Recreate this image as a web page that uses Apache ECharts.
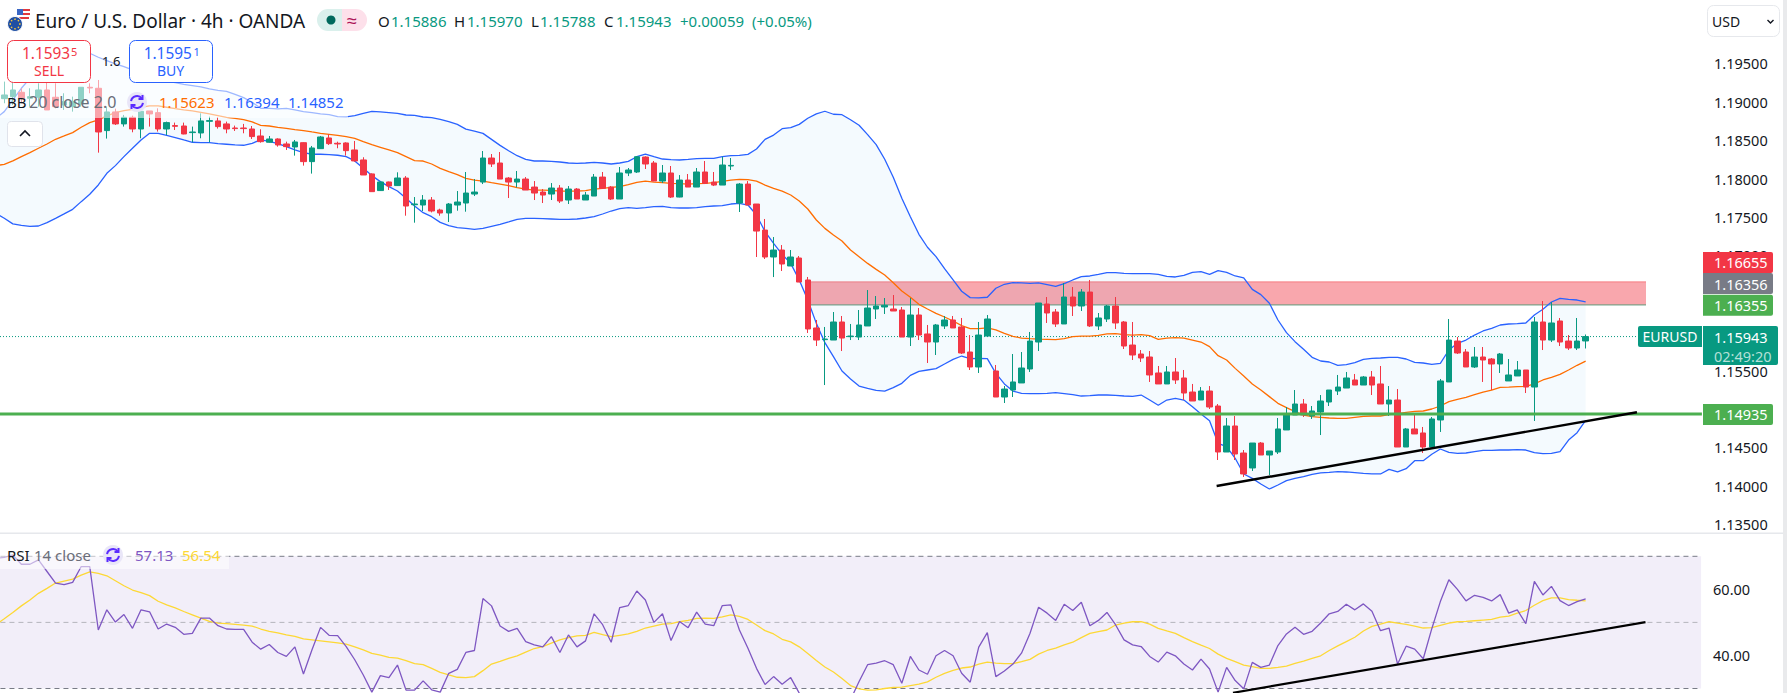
<!DOCTYPE html>
<html>
<head>
<meta charset="utf-8">
<title>EURUSD 4h</title>
<style>html,body{margin:0;padding:0;background:#fff}#chart{width:1787px;height:693px}</style>
<script src="https://cdn.jsdelivr.net/npm/echarts@6/dist/echarts.min.js"></script>
</head>
<body>
<div id="chart"></div>
<script>
// 4h EURUSD candles, oldest first
const opens = [1.19041,1.19067,1.19124,1.19046,1.19059,1.19154,1.19059,1.18959,1.18937,1.18972,
1.19189,1.19176,1.18625,1.18868,1.18712,1.18798,1.18646,1.18881,1.18859,1.18646,
1.18690,1.18685,1.18599,1.18594,1.18746,1.18751,1.18712,1.18659,1.18659,1.18646,
1.18555,1.18473,1.18516,1.18451,1.18412,1.18468,1.18221,1.18390,1.18529,1.18460,
1.18464,1.18373,1.18243,1.18061,1.17844,1.17956,1.17909,
1.18007,1.17660,1.17656,1.17721,1.17591,1.17552,1.17656,1.17682,1.17799,1.17955,
1.18268,1.18203,1.18007,1.17955,1.17994,1.17890,1.17825,1.17799,1.17877,1.17721,
1.17864,1.17721,1.17773,1.18020,1.17890,1.17734,1.18073,1.18086,1.18281,1.18203,
1.17968,1.18073,1.17760,1.17981,1.17890,1.18086,1.17955,1.17916,1.18164,1.17682,
1.17929,1.17669,1.17330,1.16979,1.17070,1.16862,1.16966,
1.16680,1.16055,1.15903,1.15898,1.16133,1.15942,
1.15937,1.16081,1.16302,1.16328,1.16302,1.16289,1.15937,1.16224,1.15977,1.15872,
1.16081,1.16159,1.16068,1.15742,1.15547,1.15950,1.15495,1.15156,1.15247,1.15339,
1.15521,1.15872,1.16367,1.16263,1.16107,1.16458,1.16341,1.16523,1.16081,1.16172,
1.16341,1.16133,1.15833,1.15716,1.15677,1.15469,1.15326,1.15482,1.15404,1.15221,
1.15117,1.15234,1.15039,1.14440,1.14779,1.14427,1.14232,1.14557,1.14401,1.14440,
1.14727,1.14922,1.15065,1.14909,1.14961,1.15091,1.15234,1.15273,1.15378,1.15312,
1.15417,1.15326,1.15065,1.15117,1.14505,1.14740,1.14688,1.14505,1.14857,1.15352,
1.15885,1.15742,1.15547,1.15677,1.15651,1.15586,1.15365,1.15430,1.15508,1.15286,
1.16133,1.15898,1.16146,1.15885,1.15794,1.15886];
const closes = [1.19089,1.19154,1.19046,1.19067,1.19154,1.18894,1.18937,1.19002,1.19002,1.19189,
1.19180,1.18607,1.18868,1.18712,1.18798,1.18646,1.18876,1.18842,1.18646,1.18729,
1.18681,1.18581,1.18607,1.18751,1.18755,1.18677,1.18646,1.18651,1.18651,1.18547,
1.18481,1.18516,1.18438,1.18416,1.18477,1.18221,1.18399,1.18542,1.18455,1.18451,
1.18364,1.18230,1.18047,1.17830,1.17956,1.17904,1.18008,
1.17643,1.17669,1.17721,1.17578,1.17552,1.17669,1.17695,1.17812,1.17825,1.18268,
1.18190,1.17994,1.17955,1.17994,1.17851,1.17812,1.17786,1.17877,1.17708,1.17864,
1.17734,1.17786,1.18020,1.17873,1.17734,1.18073,1.18112,1.18285,1.18190,1.17968,
1.18073,1.17760,1.17981,1.17890,1.18086,1.17938,1.17916,1.18177,1.18172,1.17929,
1.17656,1.17317,1.16979,1.17070,1.16888,1.16979,1.16653,
1.16042,1.15898,1.15911,1.16133,1.15924,1.15950,
1.16094,1.16315,1.16341,1.16350,1.16276,1.15937,1.16224,1.15963,1.15872,1.16094,
1.16159,1.16055,1.15729,1.15547,1.15963,1.16172,1.15156,1.15260,1.15352,1.15534,
1.15885,1.16380,1.16250,1.16107,1.16458,1.16341,1.16523,1.16081,1.16185,1.16341,
1.16120,1.15820,1.15703,1.15664,1.15443,1.15326,1.15482,1.15378,1.15208,1.15104,
1.15234,1.15026,1.14440,1.14779,1.14414,1.14154,1.14557,1.14401,1.14453,1.14740,
1.14935,1.15065,1.14922,1.14974,1.15104,1.15247,1.15286,1.15404,1.15312,1.15417,
1.15312,1.15065,1.15117,1.14505,1.14740,1.14675,1.14505,1.14870,1.15365,1.15898,
1.15729,1.15547,1.15677,1.15638,1.15586,1.15716,1.15443,1.15508,1.15286,1.16133,
1.15898,1.16120,1.15872,1.15794,1.15885,1.15943];
const lows = [1.18981,1.18959,1.18981,1.18937,1.18937,1.18894,1.18915,1.18894,1.18872,1.18937,
1.19111,1.18338,1.18521,1.18698,1.18677,1.18603,1.18525,1.18677,1.18612,1.18568,
1.18633,1.18577,1.18473,1.18525,1.18473,1.18651,1.18590,1.18620,1.18590,1.18516,
1.18468,1.18468,1.18416,1.18373,1.18299,1.18169,1.18065,1.18386,1.18438,1.18395,
1.18299,1.18221,1.18047,1.17830,1.17839,1.17852,1.17904,
1.17517,1.17426,1.17578,1.17560,1.17517,1.17435,1.17582,1.17569,1.17773,1.17929,
1.18151,1.17994,1.17747,1.17886,1.17851,1.17721,1.17682,1.17721,1.17682,1.17669,
1.17734,1.17721,1.17773,1.17864,1.17721,1.17734,1.18033,1.18073,1.18125,1.17968,
1.17942,1.17747,1.17756,1.17890,1.17890,1.17929,1.17903,1.17916,1.18112,1.17565,
1.17656,1.16979,1.16953,1.16718,1.16797,1.16862,1.16653,
1.15990,1.15820,1.15312,1.15898,1.15755,1.15898,
1.15898,1.16081,1.16172,1.16237,1.16276,1.15937,1.15820,1.15898,1.15599,1.15703,
1.16042,1.16055,1.15716,1.15508,1.15469,1.15937,1.15156,1.15078,1.15156,1.15339,
1.15482,1.15755,1.16120,1.16068,1.16107,1.16211,1.16276,1.16068,1.16029,1.16133,
1.16042,1.15781,1.15638,1.15612,1.15352,1.15326,1.15326,1.15326,1.15117,1.15104,
1.15117,1.15000,1.14336,1.14440,1.14336,1.14115,1.14193,1.14401,1.14141,1.14414,
1.14727,1.14922,1.14896,1.14870,1.14661,1.15039,1.15182,1.15273,1.15312,1.15312,
1.15182,1.15065,1.14909,1.14505,1.14505,1.14675,1.14427,1.14505,1.14701,1.15352,
1.15716,1.15547,1.15534,1.15352,1.15247,1.15469,1.15365,1.15430,1.15208,1.14844,
1.15768,1.15872,1.15820,1.15768,1.15768,1.15788];
const highs = [1.19263,1.19263,1.19176,1.19176,1.19241,1.19263,1.19241,1.19111,1.19067,1.19189,
1.19241,1.19284,1.18937,1.18911,1.18829,1.18820,1.18915,1.18881,1.18915,1.18742,
1.18729,1.18729,1.18677,1.18850,1.18807,1.18798,1.18742,1.18690,1.18712,1.18685,
1.18642,1.18555,1.18525,1.18481,1.18503,1.18473,1.18425,1.18555,1.18577,1.18481,
1.18473,1.18490,1.18278,1.18069,1.17961,1.17961,1.18082,
1.18033,1.17760,1.17786,1.17760,1.17608,1.17682,1.17838,1.18086,1.17994,1.18359,
1.18320,1.18346,1.18020,1.18099,1.18020,1.17968,1.17864,1.17942,1.17916,1.17903,
1.17877,1.17825,1.18060,1.18086,1.17903,1.18151,1.18138,1.18294,1.18290,1.18229,
1.18177,1.18164,1.18046,1.18060,1.18138,1.18229,1.18086,1.18285,1.18268,1.17942,
1.17968,1.17669,1.17474,1.17239,1.17135,1.17070,1.16992,
1.16719,1.16159,1.16068,1.16263,1.16211,1.16107,
1.16289,1.16549,1.16471,1.16445,1.16484,1.16328,1.16445,1.16315,1.16094,1.16107,
1.16211,1.16211,1.16185,1.15963,1.16133,1.16224,1.15573,1.15299,1.15716,1.15742,
1.16003,1.16380,1.16458,1.16302,1.16641,1.16588,1.16562,1.16680,1.16250,1.16354,
1.16458,1.16146,1.16133,1.15768,1.15755,1.15560,1.15560,1.15664,1.15508,1.15326,
1.15286,1.15299,1.15065,1.14883,1.14909,1.14466,1.14557,1.14570,1.14453,1.14883,
1.15026,1.15247,1.15130,1.15039,1.15182,1.15247,1.15443,1.15482,1.15456,1.15430,
1.15495,1.15560,1.15299,1.15260,1.14753,1.14922,1.14766,1.14896,1.15391,1.16172,
1.15937,1.15781,1.15807,1.15807,1.15664,1.15729,1.15651,1.15625,1.15508,1.16198,
1.16406,1.16393,1.16185,1.15963,1.16185,1.15970];

// Bollinger Bands (20, close, 2); the first entry belongs to the bar just off the left edge
const bbUpper = [1.18785,1.18872,1.19024,1.19176,1.19306,1.19436,1.19545,1.19597,1.19632,1.19645,1.19645,
1.19632,1.19580,1.19536,1.19493,1.19458,1.19415,1.19363,1.19306,1.19280,1.19267,
1.19250,1.19228,1.19211,1.19193,1.19167,1.19150,1.19137,1.19098,1.19054,1.18994,
1.18915,1.18915,1.18907,1.18915,1.18894,1.18872,1.18859,1.18842,1.18833,1.18807,
1.18803,1.18820,1.18850,1.18876,1.18868,1.18859,1.18850,
1.18828,1.18823,1.18802,1.18793,1.18771,1.18741,1.18706,1.18645,1.18619,1.18589,
1.18511,1.18433,1.18363,1.18298,1.18250,1.18229,1.18229,1.18224,1.18216,1.18203,
1.18198,1.18203,1.18211,1.18203,1.18190,1.18203,1.18224,1.18285,1.18320,1.18285,
1.18255,1.18246,1.18242,1.18250,1.18259,1.18263,1.18263,1.18285,1.18298,1.18303,
1.18316,1.18385,1.18511,1.18567,1.18650,1.18663,1.18706,
1.18786,1.18842,1.18877,1.18838,1.18832,1.18767,1.18694,1.18572,1.18442,1.18252,
1.18017,1.17744,1.17504,1.17275,1.17106,1.16984,1.16827,1.16680,1.16533,1.16450,
1.16446,1.16455,1.16572,1.16624,1.16645,1.16641,1.16636,1.16641,1.16619,1.16597,
1.16632,1.16680,1.16723,1.16732,1.16753,1.16775,1.16775,1.16766,1.16762,1.16762,
1.16762,1.16753,1.16727,1.16719,1.16740,1.16779,1.16788,1.16753,1.16801,1.16779,
1.16732,1.16706,1.16558,1.16489,1.16376,1.16159,1.15994,1.15877,1.15777,1.15673,
1.15625,1.15612,1.15569,1.15577,1.15603,1.15647,1.15660,1.15664,1.15673,1.15673,
1.15651,1.15608,1.15599,1.15582,1.15595,1.15768,1.15855,1.15898,1.15963,1.16016,
1.16050,1.16094,1.16107,1.16111,1.16120,1.16224,1.16298,1.16393,1.16441,1.16428,
1.16419,1.16394];
const bbBasis = [1.18169,1.18186,1.18230,1.18286,1.18338,1.18395,1.18451,1.18512,1.18555,1.18599,1.18668,
1.18729,1.18764,1.18816,1.18859,1.18885,1.18902,1.18929,1.18946,1.18946,1.18929,
1.18911,1.18894,1.18881,1.18863,1.18842,1.18820,1.18798,1.18785,1.18768,1.18738,
1.18694,1.18685,1.18668,1.18655,1.18638,1.18625,1.18607,1.18590,1.18577,1.18564,
1.18547,1.18525,1.18481,1.18442,1.18408,1.18373,1.18338,1.18286,1.18234,
1.18229,1.18190,1.18133,1.18090,1.18051,1.18003,1.17981,1.17968,1.17947,1.17929,
1.17908,1.17882,1.17864,1.17851,1.17851,1.17847,1.17838,1.17838,1.17838,1.17843,
1.17864,1.17873,1.17886,1.17895,1.17921,1.17951,1.17968,1.17955,1.17947,1.17938,
1.17934,1.17929,1.17934,1.17938,1.17947,1.17964,1.17981,1.17990,1.17986,1.17968,
1.17916,1.17873,1.17838,1.17786,1.17708,1.17604,1.17461,
1.17352,1.17265,1.17187,1.17070,1.16983,1.16896,1.16818,1.16744,
1.16645,1.16536,1.16454,1.16363,1.16302,1.16246,1.16198,1.16146,1.16085,1.16046,
1.16046,1.16055,1.16029,1.15985,1.15946,1.15924,1.15916,1.15911,1.15907,1.15903,
1.15916,1.15942,1.15950,1.15950,1.15959,1.15977,1.15981,1.15968,1.15963,1.15968,
1.15955,1.15907,1.15924,1.15929,1.15924,1.15898,1.15872,1.15812,1.15694,1.15638,
1.15529,1.15430,1.15326,1.15247,1.15161,1.15074,1.15017,1.14965,1.14922,1.14900,
1.14892,1.14883,1.14878,1.14878,1.14892,1.14905,1.14909,1.14909,1.14926,1.14940,
1.14957,1.14970,1.14974,1.15000,1.15039,1.15096,1.15126,1.15152,1.15187,1.15221,
1.15247,1.15282,1.15286,1.15291,1.15295,1.15326,1.15378,1.15412,1.15451,1.15508,
1.15569,1.15623];
const bbLower = [1.17548,1.17483,1.17410,1.17392,1.17379,1.17383,1.17427,1.17483,1.17540,1.17600,1.17700,
1.17796,1.17917,1.18069,1.18169,1.18286,1.18395,1.18503,1.18590,1.18590,1.18564,
1.18534,1.18503,1.18473,1.18468,1.18468,1.18455,1.18447,1.18438,1.18434,1.18460,
1.18503,1.18486,1.18455,1.18416,1.18373,1.18338,1.18317,1.18317,1.18312,1.18304,
1.18286,1.18230,1.18134,1.18039,1.17961,1.17896,1.17839,1.17744,1.17644,
1.17556,1.17504,1.17430,1.17387,1.17361,1.17352,1.17339,1.17352,1.17378,1.17404,
1.17435,1.17469,1.17482,1.17482,1.17478,1.17474,1.17469,1.17469,1.17474,1.17487,
1.17504,1.17539,1.17578,1.17608,1.17621,1.17612,1.17621,1.17634,1.17639,1.17621,
1.17617,1.17617,1.17621,1.17634,1.17643,1.17647,1.17669,1.17678,1.17656,1.17526,
1.17309,1.17157,1.17014,1.16896,1.16679,
1.16419,1.16115,1.15864,1.15681,1.15495,1.15391,1.15299,1.15269,1.15243,1.15234,
1.15278,1.15334,1.15438,1.15490,1.15508,1.15525,1.15586,1.15647,1.15690,1.15655,
1.15660,1.15655,1.15464,1.15326,1.15234,1.15204,1.15200,1.15200,1.15204,1.15213,
1.15200,1.15187,1.15169,1.15174,1.15182,1.15182,1.15178,1.15169,1.15165,1.15182,
1.15117,1.15048,1.15117,1.15139,1.15117,1.15030,1.14935,1.14848,1.14553,1.14510,
1.14358,1.14154,1.14097,1.14024,1.13958,1.14010,1.14067,1.14097,1.14119,1.14149,
1.14167,1.14175,1.14184,1.14180,1.14171,1.14162,1.14154,1.14154,1.14214,1.14180,
1.14223,1.14327,1.14327,1.14410,1.14479,1.14436,1.14423,1.14427,1.14445,1.14462,
1.14462,1.14466,1.14466,1.14471,1.14466,1.14431,1.14418,1.14423,1.14445,1.14596,
1.14692,1.14852];

// RSI (14, close) and its moving average; same off-screen first entry
const rsiLine = [69.4,69.7,70.4,67.6,67.6,68.9,65.4,61.9,61.4,62.1,66.9,66.9,47.7,53.8,50.1,52.4,48.2,53.8,53.2,48.0,49.5,
48.5,46.4,46.7,51.3,51.3,49.0,48.0,47.9,47.9,44.0,41.9,43.3,40.9,39.7,42.6,34.4,41.7,48.5,46.1,46.0,
42.7,38.7,34.1,28.9,33.9,33.3,37.1,29.5,29.5,32.3,29.6,28.9,34.6,35.8,40.9,41.5,57.2,55.0,48.9,47.3,
48.2,44.2,43.2,42.6,45.7,40.9,46.2,42.6,44.4,52.6,49.3,44.0,54.5,55.1,59.5,56.8,50.0,52.6,44.5,50.3,
48.4,53.1,49.5,49.0,55.1,55.3,47.7,42.2,36.1,31.2,33.6,31.3,33.3,28.6,21.5,23.0,23.5,25.0,26.1,26.6,
32.1,37.2,37.7,38.4,37.2,31.6,39.7,35.6,34.3,39.9,41.5,39.9,34.6,31.9,42.5,46.9,33.6,35.3,37.4,40.7,
46.7,54.6,52.8,50.6,55.5,53.6,56.1,49.0,50.6,53.0,49.3,44.7,43.2,42.7,39.7,38.0,41.0,39.9,37.4,35.6,
38.9,35.9,28.9,36.4,32.4,29.9,37.9,36.4,37.1,43.0,46.5,48.5,46.4,47.3,49.8,52.6,53.3,55.5,53.8,55.6,
53.4,47.5,48.3,37.4,42.8,41.9,39.0,48.1,56.3,62.9,60.0,56.5,58.2,57.6,56.5,58.4,52.8,53.8,49.6,62.4,
58.3,60.9,56.6,55.1,56.3,57.13];
const rsiAverage = [49.3,51.1,53.0,55.0,56.8,58.8,60.3,61.9,62.5,63.1,64.3,65.3,64.8,64.1,62.6,61.1,59.8,59.0,58.1,56.4,55.3,
54.4,53.3,52.3,51.3,50.3,49.8,49.6,49.4,49.2,48.9,48.0,47.3,46.8,46.2,45.8,45.0,44.7,44.4,44.1,43.8,
43.4,42.6,41.7,40.6,40.1,39.4,39.2,38.4,37.5,37.2,36.1,34.9,34.1,33.4,33.3,33.6,35.4,37.4,38.2,39.1,
39.9,41.0,42.1,42.7,43.7,44.7,45.4,45.9,46.1,47.0,46.3,45.7,46.1,46.5,47.3,48.3,48.9,49.5,49.6,50.2,
50.6,51.2,51.3,51.2,51.7,52.3,51.8,50.9,49.2,47.5,46.5,44.9,44.1,42.6,40.6,38.5,36.5,35.0,33.0,30.9,
29.9,29.5,29.6,30.0,30.3,30.4,30.9,31.3,32.0,33.4,34.6,35.5,36.2,36.5,37.4,38.0,37.7,37.5,37.5,38.1,
38.8,40.4,41.5,42.2,43.2,44.0,45.4,46.7,47.2,47.7,49.2,49.8,50.2,50.2,49.5,48.2,47.4,46.7,45.4,44.2,
43.1,42.1,40.4,39.1,38.1,37.1,36.6,36.1,36.1,36.4,36.8,37.6,38.3,39.1,39.9,41.5,42.9,44.2,45.5,47.4,
48.8,49.5,50.2,49.8,49.4,48.9,48.3,48.4,49.1,49.8,50.2,50.3,50.5,50.7,50.9,51.6,51.9,52.8,53.6,55.2,
56.6,57.4,57.4,56.9,56.7,56.54];

// Drawn levels and trend lines, x given in bars
const supplyZoneTop = 1.16655;
const supplyZoneBottom = 1.16355;
const supplyZoneBars = [95, 193.06];
const supportLevel = 1.14935;
const lastPrice = 1.15943;
const priceTrendBars = [142.83, 192.0];
const priceTrendValues = [1.13997, 1.14957];
const rsiTrendBars = [144.74, 193.0];
const rsiTrendValues = [28.7, 50.06];
const rsiLevels = [70, 50, 30];

// Price-scale tags: value, colour, nudge so overlapping tags stack
const tagValues = [1.16655, 1.16356, 1.16355, 1.14935];
const tagColors = ['#f23645', '#787b86', '#4caf50', '#4caf50'];
const tagNudges = [-19.5, -21.3, 0.2, 0.5];

// Scale labels that the tags would cover entirely are left out
const priceTicksHidden = [1.165, 1.16];
const priceTicksShown = [1.135, 1.195];
const rsiTicksShown = [40, 60];

const UP = '#089981', DOWN = '#f23645';
const FONT = '"Noto Sans", sans-serif';
const BAND = 8.548, BARS = 200;
const categories = Array.from({length: BARS}, (_, i) => i);
const candles = [['-', '-', '-', '-']].concat(opens.map((o, i) => [o, closes[i], lows[i], highs[i]]));

const chart = echarts.init(document.getElementById('chart'), null, {renderer: 'svg'});

function lineSeries(name, data, color, width, xi, yi, z, extra) {
  return Object.assign({
    name, type: 'line', data, xAxisIndex: xi, yAxisIndex: yi, z,
    showSymbol: false, symbol: 'none', silent: true, animation: false,
    lineStyle: {color, width}
  }, extra || {});
}

function rectItem(xi, yi, fill, z, x0, x1, y0, y1) {
  return {
    type: 'custom', xAxisIndex: xi, yAxisIndex: yi, z, silent: true, animation: false,
    data: [[x0, y0]],
    renderItem: (p, api) => {
      const a = api.coord([x0, y0]), b = api.coord([x1, y1]);
      return {type: 'rect', shape: {x: a[0], y: a[1], width: b[0] - a[0], height: b[1] - a[1]}, style: {fill}};
    }
  };
}

const series = [
  rectItem(1, 0, 'rgba(242,54,69,0.44)', 1, supplyZoneBars[0], supplyZoneBars[1], supplyZoneTop, supplyZoneBottom),
  lineSeries('Zone top', supplyZoneBars.map(x => [x, supplyZoneTop]), '#f77c80', 1, 1, 0, 1),
  lineSeries('Zone bottom', supplyZoneBars.map(x => [x, supplyZoneBottom]), '#5f9a7c', 1, 1, 0, 1),
  {
    type: 'custom', xAxisIndex: 0, yAxisIndex: 0, z: 2, silent: true, animation: false,
    data: [[0, bbUpper[0]]],
    renderItem: (p, api) => {
      const pts = bbUpper.map((v, i) => api.coord([i, v]));
      for (let i = bbLower.length - 1; i >= 0; i--) pts.push(api.coord([i, bbLower[i]]));
      return {type: 'polygon', shape: {points: pts}, style: {fill: 'rgba(33,150,243,0.05)'}};
    }
  },
  lineSeries('Last price', [[0.5, lastPrice], [192.1, lastPrice]], UP, 1, 1, 0, 3, {clip: false, lineStyle: {color: UP, width: 1, type: [1, 2]}}),
  lineSeries('BB upper', bbUpper, '#2962ff', 1.3, 0, 0, 4),
  lineSeries('BB basis', bbBasis, '#ff6d00', 1.3, 0, 0, 4),
  lineSeries('BB lower', bbLower, '#2962ff', 1.3, 0, 0, 4),
  {
    type: 'candlestick', xAxisIndex: 0, yAxisIndex: 0, z: 5, silent: true, animation: false,
    data: candles, barWidth: 6,
    itemStyle: {color: UP, color0: DOWN, borderColor: UP, borderColor0: DOWN, borderWidth: 1}
  },
  lineSeries('Support', [[0.5, supportLevel], [199.6, supportLevel]], '#4caf50', 3.2, 1, 0, 6, {clip: false}),
  lineSeries('Price trend', priceTrendBars.map((x, i) => [x, priceTrendValues[i]]), '#000', 2.4, 1, 0, 6),
  // Price-scale tags
  {
    type: 'custom', xAxisIndex: 1, yAxisIndex: 0, z: 10, silent: true, animation: false, clip: false,
    data: tagValues.map((v, i) => [i, v]),
    renderItem: (p, api) => {
      const i = p.dataIndex, y = api.coord([0, tagValues[i]])[1] + tagNudges[i];
      return {type: 'group', children: [
        {type: 'rect', shape: {x: 1703, y: y - 10.5, width: 70, height: 21, r: [0, 2, 2, 0]}, style: {fill: tagColors[i]}},
        {type: 'text', style: {x: 1714, y, text: tagValues[i].toFixed(5), fill: '#fff', font: '14.5px ' + FONT, align: 'left', verticalAlign: 'middle'}}
      ]};
    }
  },
  {
    type: 'custom', xAxisIndex: 1, yAxisIndex: 0, z: 11, silent: true, animation: false, clip: false,
    data: [[0, lastPrice]],
    renderItem: (p, api) => {
      const y = api.coord([0, lastPrice])[1];
      return {type: 'group', children: [
        {type: 'rect', shape: {x: 1638, y: y - 10.5, width: 64, height: 21, r: [2, 0, 0, 2]}, style: {fill: UP}},
        {type: 'text', style: {x: 1670, y, text: 'EURUSD', fill: '#fff', font: '14px ' + FONT, align: 'center', verticalAlign: 'middle'}},
        {type: 'rect', shape: {x: 1703, y: y - 10.5, width: 75, height: 39, r: [0, 2, 2, 0]}, style: {fill: UP}},
        {type: 'text', style: {x: 1714, y, text: lastPrice.toFixed(5), fill: '#fff', font: '14.5px ' + FONT, align: 'left', verticalAlign: 'middle'}},
        {type: 'text', style: {x: 1714, y: y + 19, text: '02:49:20', fill: '#b5e0d8', font: '14.5px ' + FONT, align: 'left', verticalAlign: 'middle'}}
      ]};
    }
  },
  // RSI pane
  rectItem(3, 1, 'rgba(126,87,194,0.1)', 1, -0.5, 199.5, rsiLevels[0], rsiLevels[2]),
  lineSeries('RSI 70', [[-0.5, rsiLevels[0]], [199.5, rsiLevels[0]]], '#787b86', 1, 3, 1, 2, {lineStyle: {color: '#787b86', width: 1, type: [5, 4]}}),
  lineSeries('RSI 50', [[-0.5, rsiLevels[1]], [199.5, rsiLevels[1]]], '#b4b4bc', 1, 3, 1, 2, {lineStyle: {color: '#b4b4bc', width: 1, type: [5, 4]}}),
  lineSeries('RSI 30', [[-0.5, rsiLevels[2]], [199.5, rsiLevels[2]]], '#787b86', 1, 3, 1, 2, {lineStyle: {color: '#787b86', width: 1, type: [5, 4]}}),
  lineSeries('RSI MA', rsiAverage, '#fdd835', 1.3, 2, 1, 3),
  lineSeries('RSI', rsiLine, '#7e57c2', 1.3, 2, 1, 4),
  lineSeries('RSI trend', rsiTrendBars.map((x, i) => [x, rsiTrendValues[i]]), '#000', 2.2, 3, 1, 5)
];

// Header, legends and buttons sit on top of the panes
function label(x, y, text, fill, size) {
  return {type: 'text', z: 100, silent: true, style: {
    x, y, text, fill, font: size + 'px ' + FONT, textAlign: 'left', textVerticalAlign: 'middle'
  }};
}
// Two opposing arcs with small arrow heads
function syncIcon(cx, cy) {
  const stroke = {fill: 'none', stroke: '#5a2bff', lineWidth: 2};
  const arc = (a0, a1) => ({type: 'arc', z: 100, silent: true,
    shape: {cx, cy, r: 6, startAngle: a0, endAngle: a1, clockwise: true}, style: stroke});
  const head = pts => ({type: 'polyline', z: 100, silent: true, shape: {points: pts.map(p => [cx + p[0], cy + p[1]])}, style: stroke});
  return [
    {type: 'circle', z: 99, silent: true, shape: {cx, cy, r: 10}, style: {fill: '#e9e6f8'}},
    arc(Math.PI * 1.05, Math.PI * 1.8),
    arc(Math.PI * 0.05, Math.PI * 0.8),
    head([[5.5, -7], [5.5, -3], [1.5, -3]]),
    head([[-5.5, 7], [-5.5, 3], [-1.5, 3]])
  ];
}
function buttonBox(x, color) {
  return {type: 'rect', z: 99, silent: true, shape: {x: x + 0.5, y: 40.5, width: 83, height: 42, r: 6},
    style: {fill: '#fff', stroke: color, lineWidth: 1}};
}
const euStars = [0, 1, 2, 3, 4, 5, 6, 7].map(k => ({
  type: 'circle', z: 101, silent: true,
  shape: {cx: 15 + 4.8 * Math.cos(k * Math.PI / 4), cy: 24 + 4.8 * Math.sin(k * Math.PI / 4), r: 0.8},
  style: {fill: '#f4c542'}
}));
const chrome = [
  {type: 'rect', z: 90, silent: true, shape: {x: 0, y: 33, width: 348, height: 85}, style: {fill: 'rgba(255,255,255,0.55)'}},
  {type: 'rect', z: 90, silent: true, shape: {x: 0, y: 543, width: 229, height: 26}, style: {fill: 'rgba(255,255,255,0.55)'}},
  {type: 'rect', z: 95, silent: true, shape: {x: 0, y: 532.5, width: 1783, height: 1.5}, style: {fill: '#e6e8ec'}},
  {type: 'rect', z: 95, silent: true, shape: {x: 1783, y: 0, width: 4, height: 693}, style: {fill: '#e9eaec'}},

  // Symbol logo
  {type: 'circle', z: 100, silent: true, shape: {cx: 23, cy: 14, r: 7}, style: {fill: '#fff'}},
  {type: 'rect', z: 100, silent: true, shape: {x: 23, y: 9, width: 7, height: 2}, style: {fill: '#e0393e'}},
  {type: 'rect', z: 100, silent: true, shape: {x: 23, y: 13, width: 7, height: 2}, style: {fill: '#e0393e'}},
  {type: 'rect', z: 100, silent: true, shape: {x: 19, y: 17, width: 10, height: 2}, style: {fill: '#e0393e'}},
  {type: 'rect', z: 100, silent: true, shape: {x: 17, y: 9, width: 6, height: 6}, style: {fill: '#3a66c4'}},
  {type: 'circle', z: 100, silent: true, shape: {cx: 15, cy: 24, r: 7.5}, style: {fill: '#1f4fa3', stroke: '#fff', lineWidth: 1}},
  ...euStars,

  label(35, 21, 'Euro / U.S. Dollar · 4h · OANDA', '#131722', 19),

  // Market status pill
  {type: 'rect', z: 99, silent: true, shape: {x: 317, y: 9, width: 25, height: 22, r: [11, 0, 0, 11]}, style: {fill: '#daf0ec'}},
  {type: 'rect', z: 99, silent: true, shape: {x: 342, y: 9, width: 25, height: 22, r: [0, 11, 11, 0]}, style: {fill: '#fde0ea'}},
  {type: 'circle', z: 100, silent: true, shape: {cx: 331, cy: 20, r: 4.5}, style: {fill: '#00695c'}},
  label(347, 20, '≈', '#ad1457', 18),

  // OHLC readout
  label(378, 21, 'O', '#131722', 15), label(391, 21, '1.15886', UP, 15),
  label(454, 21, 'H', '#131722', 15), label(467, 21, '1.15970', UP, 15),
  label(531, 21, 'L', '#131722', 15), label(540, 21, '1.15788', UP, 15),
  label(604, 21, 'C', '#131722', 15), label(616, 21, '1.15943', UP, 15),
  label(680, 21, '+0.00059', UP, 15), label(752, 21, '(+0.05%)', UP, 15),

  // Trade buttons
  buttonBox(7, '#f23645'),
  label(22, 53, '1.1593', '#f23645', 15.4),
  label(71, 51, '5', '#f23645', 11),
  label(34, 70, 'SELL', '#f23645', 14),
  label(102, 61, '1.6', '#131722', 13),
  buttonBox(129, '#2962ff'),
  label(143.7, 53, '1.1595', '#2962ff', 15.4),
  label(193.5, 51, '1', '#2962ff', 11),
  label(157, 70, 'BUY', '#2962ff', 14),

  // Bollinger legend
  label(7, 102, 'BB', '#131722', 15),
  label(29, 102, '20 close 2.0', '#6a6d78', 16),
  ...syncIcon(137, 102),
  label(159, 102, '1.15623', '#ff6d00', 15),
  label(224, 102, '1.16394', '#2962ff', 15),
  label(288, 102, '1.14852', '#2962ff', 15),

  // Collapse button
  {type: 'rect', z: 99, silent: true, shape: {x: 7.5, y: 121.5, width: 35, height: 25, r: 4}, style: {fill: '#fff', stroke: '#e0e3eb', lineWidth: 1}},
  {type: 'polyline', z: 100, silent: true, shape: {points: [[20, 136], [25, 131], [30, 136]]}, style: {fill: 'none', stroke: '#131722', lineWidth: 1.6}},

  // RSI legend
  label(7, 555, 'RSI', '#131722', 15),
  label(34, 555, '14 close', '#6a6d78', 15),
  ...syncIcon(113, 555),
  label(135, 555, '57.13', '#7e57c2', 15),
  label(182, 555, '56.54', '#fdd835', 15),

  // Currency selector
  {type: 'rect', z: 99, silent: true, shape: {x: 1707.5, y: 5.5, width: 72, height: 31, r: 6}, style: {fill: '#fff', stroke: '#e6e8ec', lineWidth: 1}},
  label(1712, 21, 'USD', '#131722', 14),
  {type: 'polyline', z: 100, silent: true, shape: {points: [[1767.5, 20], [1770.5, 23], [1773.5, 20]]}, style: {fill: 'none', stroke: '#131722', lineWidth: 1.4}}
];

chart.setOption({
  animation: false,
  backgroundColor: '#fff',
  textStyle: {fontFamily: FONT},
  grid: [
    {left: -BAND, top: -13.4, width: BAND * BARS, height: 576, outerBoundsMode: 'none'},
    {left: -BAND, top: 523.25, width: BAND * BARS, height: 198.3, outerBoundsMode: 'none'}
  ],
  xAxis: [
    {type: 'category', gridIndex: 0, data: categories, show: false, boundaryGap: true},
    {type: 'value', gridIndex: 0, min: -0.5, max: BARS - 0.5, show: false},
    {type: 'category', gridIndex: 1, data: categories, show: false, boundaryGap: true},
    {type: 'value', gridIndex: 1, min: -0.5, max: BARS - 0.5, show: false}
  ],
  yAxis: [
    {
      type: 'value', gridIndex: 0, position: 'right', min: 1.13, max: 1.205, interval: 0.005,
      axisLine: {show: false}, axisTick: {show: false}, splitLine: {show: false},
      axisLabel: {
        margin: 13, color: '#131722', fontSize: 14.5, fontFamily: FONT,
        formatter: v => {
          const inRange = v >= priceTicksShown[0] - 1e-6 && v <= priceTicksShown[1] + 1e-6;
          const covered = priceTicksHidden.some(h => Math.abs(h - v) < 1e-6);
          return inRange && !covered ? v.toFixed(5) : '';
        }
      }
    },
    {
      type: 'value', gridIndex: 1, position: 'right', min: 20, max: 80, interval: 20,
      axisLine: {show: false}, axisTick: {show: false}, splitLine: {show: false},
      axisLabel: {
        margin: 12, color: '#131722', fontSize: 14.5, fontFamily: FONT,
        formatter: v => rsiTicksShown.includes(v) ? v.toFixed(2) : ''
      }
    }
  ],
  series,
  graphic: {elements: chrome}
});
</script>
</body>
</html>
